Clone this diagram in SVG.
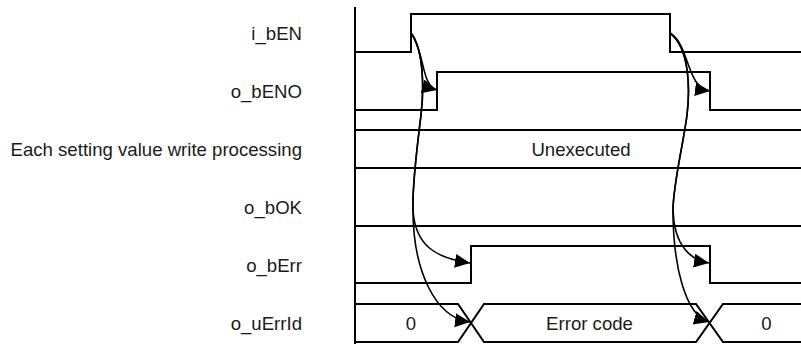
<svg xmlns="http://www.w3.org/2000/svg" width="801" height="344" viewBox="0 0 801 344">
<style>
text{font-family:"Liberation Sans",Arial,sans-serif;font-size:18.6px;fill:#1a1a1a}
.lbl{text-anchor:end}
.mid{text-anchor:middle}
.sig{fill:none;stroke:#000;stroke-width:2}
.arr{fill:none;stroke:#000;stroke-width:1.6;marker-end:url(#ah)}
</style>
<defs>
<marker id="ah" markerUnits="userSpaceOnUse" markerWidth="18" markerHeight="16" refX="15" refY="7" orient="auto">
<path d="M0,0 L15,7 L0,14 z" fill="#000"/>
</marker>
</defs>
<rect width="801" height="344" fill="#fff"/>
<g id="axis"><line x1="355" y1="7" x2="355" y2="344" class="sig"/></g>
<g id="i_bEN">
<text class="lbl" x="302" y="39.5">i_bEN</text>
<path class="sig" d="M355,52 H411 V14 H670 V52 H801"/>
</g>
<g id="o_bENO">
<text class="lbl" x="302" y="97.5">o_bENO</text>
<path class="sig" d="M355,110 H437 V72 H710 V110 H801"/>
</g>
<g id="processing">
<text class="lbl" x="302" y="155.5">Each setting value write processing</text>
<path class="sig" d="M355,130 H801 M355,168 H801"/>
<text class="mid" x="581" y="155.5">Unexecuted</text>
</g>
<g id="o_bOK">
<text class="lbl" x="302" y="213.5">o_bOK</text>
<path class="sig" d="M355,226 H801"/>
</g>
<g id="o_bErr">
<text class="lbl" x="302" y="271.5">o_bErr</text>
<path class="sig" d="M355,283 H471 V246 H710 V283 H801"/>
</g>
<g id="o_uErrId">
<text class="lbl" x="302" y="329.5">o_uErrId</text>
<path class="sig" d="M355,304 H458 L484,342 H696 L723,304 H801 M355,342 H458 L484,304 H696 L723,342 H801"/>
<text class="mid" x="411" y="329.5">0</text>
<text class="mid" x="589.5" y="329.5">Error code</text>
<text class="mid" x="766.5" y="329.5">0</text>
</g>
<g id="connectors">
<path class="arr" d="M411,33 C425,52 421,86 437,90"/>
<path class="arr" d="M411,33 C424,50 424,90 421,115 C418,140 412,185 413,210 C415,245 435,258 470,263"/>
<path class="arr" d="M411,33 C424,50 424,90 421,115 C418,140 412,185 413,210 C413,270 435,318 470,322"/>
<path class="arr" d="M670,33 C690,45 686,88 710,91"/>
<path class="arr" d="M670,33 C690,48 690,90 687,115 C684,140 673,185 673,210 C674,245 690,260 709,263"/>
<path class="arr" d="M670,33 C690,48 690,90 687,115 C684,140 673,185 673,210 C673,265 685,315 709,322"/>
</g>
</svg>
